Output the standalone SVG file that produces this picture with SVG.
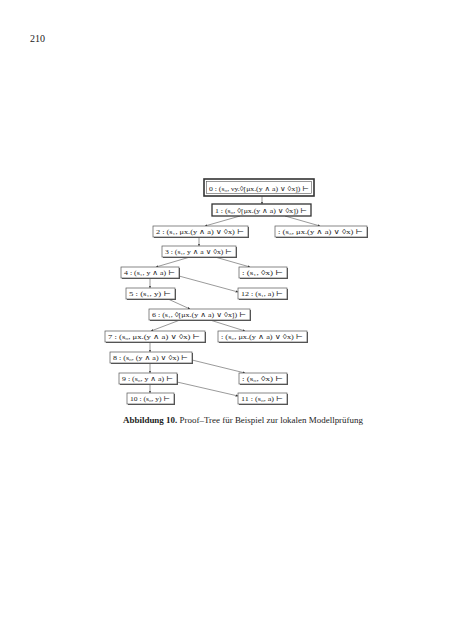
<svg xmlns="http://www.w3.org/2000/svg" width="452" height="640" viewBox="0 0 452 640">
<defs>
<marker id="ah" viewBox="0 0 6 6" refX="6" refY="3" markerWidth="4" markerHeight="4" orient="auto">
<path d="M0,0 L6,3 L0,6 z" fill="#333"/>
</marker>
</defs>
<style>
.bg{fill:#fff}
.sh{fill:#555}
.bx{fill:#fff;stroke:#555;stroke-width:0.7}
.t{font-family:"Liberation Serif","DejaVu Serif",serif;font-size:7px;fill:#222}
.c line{stroke:#555;stroke-width:0.6;marker-end:url(#ah)}
.pg{font-family:"Liberation Serif",serif;font-size:10px;fill:#222}
.cap{font-family:"Liberation Serif",serif;font-size:7.5px;fill:#222}
</style>
<rect class="bg" x="0" y="0" width="452" height="640"/>
<text class="pg" x="30" y="42">210</text>

<g class="c" id="connectors">
<line x1="262" y1="196" x2="262" y2="204"/>
<line x1="240" y1="216" x2="205" y2="226"/>
<line x1="285" y1="216" x2="320" y2="226"/>
<line x1="199" y1="237" x2="199" y2="246"/>
<line x1="190" y1="257" x2="156" y2="267"/>
<line x1="215" y1="257" x2="250" y2="267"/>
<line x1="150" y1="278" x2="150" y2="288"/>
<line x1="179" y1="276" x2="238" y2="292"/>
<line x1="168" y1="299" x2="190" y2="309"/>
<line x1="180" y1="320" x2="151" y2="331"/>
<line x1="210" y1="320" x2="245" y2="331"/>
<line x1="150" y1="342" x2="150" y2="352"/>
<line x1="150" y1="363" x2="150" y2="373"/>
<line x1="192" y1="360" x2="245" y2="373"/>
<line x1="150" y1="384" x2="150" y2="393"/>
<line x1="177" y1="382" x2="238" y2="396"/>
</g>

<g id="n0">
<rect x="204" y="179" width="110" height="17" fill="#fff" stroke="#333" stroke-width="1.6"/>
<rect x="206.5" y="181.5" width="105" height="12" fill="#fff" stroke="#555" stroke-width="0.6"/>
<text class="t" x="209" y="190.5" textLength="100" lengthAdjust="spacingAndGlyphs">0 : (s₀, νy.◊[μx.(y ∧ a) ∨ ◊x]) ⊢</text>
</g>
<g id="n1">
<rect x="212" y="204" width="99" height="12" fill="#fff" stroke="#333" stroke-width="1.3"/>
<text class="t" x="215" y="212.5" textLength="92" lengthAdjust="spacingAndGlyphs">1 : (s₀, ◊[μx.(y ∧ a) ∨ ◊x]) ⊢</text>
</g>
<g id="n2">
<rect class="sh" x="154" y="227" width="95" height="11"/>
<rect class="bx" x="153" y="226" width="95" height="11"/>
<text class="t" x="156" y="234" textLength="88" lengthAdjust="spacingAndGlyphs">2 : (s₁, μx.(y ∧ a) ∨ ◊x) ⊢</text>
</g>
<g id="n2r">
<rect class="sh" x="276" y="227" width="92" height="11"/>
<rect class="bx" x="275" y="226" width="92" height="11"/>
<text class="t" x="278" y="234" textLength="85" lengthAdjust="spacingAndGlyphs">: (s₃, μx.(y ∧ a) ∨ ◊x) ⊢</text>
</g>
<g id="n3">
<rect class="sh" x="163" y="247" width="74" height="11"/>
<rect class="bx" x="162" y="246" width="74" height="11"/>
<text class="t" x="165" y="254" textLength="67" lengthAdjust="spacingAndGlyphs">3 : (s₁, y ∧ a ∨ ◊x) ⊢</text>
</g>
<g id="n4">
<rect class="sh" x="122" y="268" width="58" height="11"/>
<rect class="bx" x="121" y="267" width="58" height="11"/>
<text class="t" x="124" y="275" textLength="51" lengthAdjust="spacingAndGlyphs">4 : (s₁, y ∧ a) ⊢</text>
</g>
<g id="n4r">
<rect class="sh" x="240" y="268" width="48" height="11"/>
<rect class="bx" x="239" y="267" width="48" height="11"/>
<text class="t" x="242" y="275" textLength="41" lengthAdjust="spacingAndGlyphs">: (s₁, ◊x) ⊢</text>
</g>
<g id="n5">
<rect class="sh" x="127" y="289" width="49" height="11"/>
<rect class="bx" x="126" y="288" width="49" height="11"/>
<text class="t" x="129" y="296" textLength="42" lengthAdjust="spacingAndGlyphs">5 : (s₁, y) ⊢</text>
</g>
<g id="n12">
<rect class="sh" x="239" y="289" width="49" height="11"/>
<rect class="bx" x="238" y="288" width="49" height="11"/>
<text class="t" x="241" y="296" textLength="42" lengthAdjust="spacingAndGlyphs">12 : (s₁, a) ⊢</text>
</g>
<g id="n6">
<rect class="sh" x="150" y="310" width="101" height="11"/>
<rect class="bx" x="149" y="309" width="101" height="11"/>
<text class="t" x="152" y="317" textLength="94" lengthAdjust="spacingAndGlyphs">6 : (s₁, ◊[μx.(y ∧ a) ∨ ◊x]) ⊢</text>
</g>
<g id="n7">
<rect class="sh" x="106" y="332" width="100" height="11"/>
<rect class="bx" x="105" y="331" width="100" height="11"/>
<text class="t" x="108" y="339" textLength="92" lengthAdjust="spacingAndGlyphs">7 : (s₀, μx.(y ∧ a) ∨ ◊x) ⊢</text>
</g>
<g id="n7r">
<rect class="sh" x="219" y="332" width="89" height="11"/>
<rect class="bx" x="218" y="331" width="89" height="11"/>
<text class="t" x="221" y="339" textLength="82" lengthAdjust="spacingAndGlyphs">: (s₂, μx.(y ∧ a) ∨ ◊x) ⊢</text>
</g>
<g id="n8">
<rect class="sh" x="111" y="353" width="82" height="11"/>
<rect class="bx" x="110" y="352" width="82" height="11"/>
<text class="t" x="113" y="360" textLength="75" lengthAdjust="spacingAndGlyphs">8 : (s₀, (y ∧ a) ∨ ◊x) ⊢</text>
</g>
<g id="n9">
<rect class="sh" x="120" y="374" width="58" height="11"/>
<rect class="bx" x="119" y="373" width="58" height="11"/>
<text class="t" x="122" y="381" textLength="51" lengthAdjust="spacingAndGlyphs">9 : (s₀, y ∧ a) ⊢</text>
</g>
<g id="n9r">
<rect class="sh" x="240" y="374" width="48" height="11"/>
<rect class="bx" x="239" y="373" width="48" height="11"/>
<text class="t" x="242" y="381" textLength="41" lengthAdjust="spacingAndGlyphs">: (s₀, ◊x) ⊢</text>
</g>
<g id="n10">
<rect class="sh" x="128" y="394" width="47" height="11"/>
<rect class="bx" x="127" y="393" width="47" height="11"/>
<text class="t" x="130" y="401" textLength="40" lengthAdjust="spacingAndGlyphs">10 : (s₀, y) ⊢</text>
</g>
<g id="n11">
<rect class="sh" x="239" y="394" width="49" height="11"/>
<rect class="bx" x="238" y="393" width="49" height="11"/>
<text class="t" x="241" y="401" textLength="42" lengthAdjust="spacingAndGlyphs">11 : (s₀, a) ⊢</text>
</g>

<text class="cap" x="123" y="423" textLength="240" lengthAdjust="spacingAndGlyphs"><tspan font-weight="bold">Abbildung 10.</tspan> Proof–Tree für Beispiel zur lokalen Modellprüfung</text>
</svg>
